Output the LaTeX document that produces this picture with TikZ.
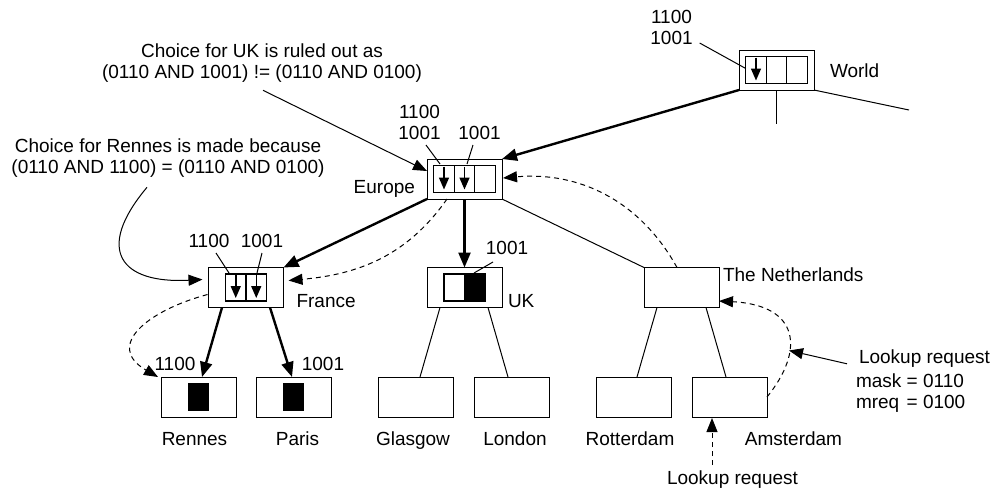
\documentclass[tikz,border=0pt]{standalone}
\usepackage{fontspec}
\setmainfont{Liberation Sans}
\usetikzlibrary{arrows.meta,calc,positioning}

\tikzset{
  every node/.style={inner sep=0pt,outer sep=0pt,font=\fontsize{19}{21}\selectfont},
  box/.style={draw,line width=1pt,minimum width=75pt,minimum height=40pt},
  cell/.style={draw,line width=1.2pt,minimum width=20.5pt,minimum height=27pt},
  pointer/.style={path picture={\draw[line width=1.5pt,-{Triangle[length=12pt,width=10pt]}]
      ([yshift=-1pt]path picture bounding box.north) -- ([yshift=3pt]path picture bounding box.south);}},
  bit/.style={fill=black,minimum width=21pt,minimum height=28pt},
  branch/.style={line width=1pt},
  route/.style={line width=2.4pt,-{Triangle[length=15pt,width=12pt]}},
  hint/.style={line width=1pt,-{Triangle[length=14pt,width=11pt]}},
  query/.style={line width=1pt,dash pattern=on 5pt off 4pt,-{Triangle[length=14pt,width=11pt]}}
}

\begin{document}
\begin{tikzpicture}[x=1pt,y=1pt]
  \useasboundingbox (0,0) rectangle (992,-491);

  % tree boxes
  \node[box] (World) at (776.5,-70) {};
  \node[box] (Europe) at ($(World)+(-312,-109)$) {};
  \node[box] (UK) at ($(Europe)+(0,-108.5)$) {};
  \node[box] (France) at ($(UK)+(-218.5,0)$) {};
  \node[box] (NL) at ($(UK)+(217,0)$) {};
  \node[box] (Rennes) at ($(France)+(-47.5,-109.5)$) {};
  \node[box] (Paris) at ($(France)+(47.5,-109.5)$) {};
  \node[box] (Glasgow) at ($(UK)+(-49,-109.5)$) {};
  \node[box] (London) at ($(UK)+(47,-109.5)$) {};
  \node[box] (Rotterdam) at ($(NL)+(-48,-109.5)$) {};
  \node[box] (Amsterdam) at ($(NL)+(48,-109.5)$) {};

  % cells
  \node[cell,pointer] (W1) at ($(World)+(-20.5,0)$) {};
  \node[cell,right=0pt of W1] (W2) {};
  \node[cell,right=0pt of W2] (W3) {};
  \node[cell,pointer] (E1) at ($(Europe)+(-20.5,0)$) {};
  \node[cell,pointer,right=0pt of E1] (E2) {};
  \node[cell,right=0pt of E2] (E3) {};
  \node[cell,pointer,anchor=east] (F1) at (France) {};
  \node[cell,pointer,anchor=west] (F2) at (France) {};
  \node[cell,anchor=east] (U1) at (UK) {};
  \node[cell,fill=black,anchor=west] (U2) at (UK) {};
  \node[bit] (RennesBit) at (Rennes) {};
  \node[bit] (ParisBit) at (Paris) {};

  % names
  \node[anchor=base west] (lWorld) at ($(World.east)+(16,-7)$) {World};
  \node[anchor=base east] (lEurope) at ($(Europe.west)+(-12,-14)$) {Europe};
  \node[anchor=base west] (lFrance) at ($(France.east)+(13,-19.5)$) {France};
  \node[anchor=base west] (lUK) at ($(UK.east)+(6,-19.5)$) {UK};
  \node[anchor=base west] (lNL) at ($(NL.east)+(4,6.5)$) {The Netherlands};
  \node[anchor=base] (lRennes) at ($(Rennes.south)+(-4,-28)$) {Rennes};
  \node[anchor=base] (lParis) at ($(Paris.south)+(4,-28)$) {Paris};
  \node[anchor=base] (lGlasgow) at ($(Glasgow.south)+(-2.5,-28)$) {Glasgow};
  \node[anchor=base] (lLondon) at ($(London.south)+(3.5,-28)$) {London};
  \node[anchor=base] (lRotterdam) at ($(Rotterdam.south)+(-3.5,-28)$) {Rotterdam};
  \node[anchor=base] (lAmsterdam) at ($(Amsterdam.south)+(64,-28)$) {Amsterdam};

  % bit strings
  \node[anchor=base] (bW) at ($(World.west)+(-67.5,26)$) {\begin{tabular}[b]{@{}c@{}}1100\\1001\end{tabular}};
  \node[anchor=base] (bE1) at ($(Europe.north)+(-45,20)$) {\begin{tabular}[b]{@{}c@{}}1100\\1001\end{tabular}};
  \node[anchor=base] (bE2) at ($(Europe.north)+(15,20)$) {1001};
  \node[anchor=base] (bF1) at ($(France.north)+(-37,20.5)$) {1100};
  \node[anchor=base] (bF2) at ($(France.north)+(16,20.5)$) {1001};
  \node[anchor=base] (bU) at ($(UK.north)+(42.5,13.5)$) {1001};
  \node[anchor=base] (bR) at ($(Rennes.north)+(-23.5,7)$) {1100};
  \node[anchor=base] (bP) at ($(Paris.north)+(29.5,7)$) {1001};

  % comments and requests
  \node[anchor=base] (cU) at (262,-57.3) {\begin{tabular}[t]{@{}c@{}}Choice for UK is ruled out as\\(0110 AND 1001) != (0110 AND 0100)\end{tabular}};
  \node[anchor=base] (cR) at (168,-152.3) {\begin{tabular}[t]{@{}c@{}}Choice for Rennes is made because\\(0110 AND 1100) = (0110 AND 0100)\end{tabular}};
  \node[anchor=base west] (lk) at ($(Amsterdam.east)+(89,33.2)$) {\begin{tabular}[t]{@{}l@{\ }l@{}}\multicolumn{2}{@{\hspace{3pt}}l@{}}{Lookup request}\\[3pt]mask &= 0110\\mreq &= 0100\end{tabular}};
  \node[anchor=base] (lb) at ($(Amsterdam.south)+(3,-67)$) {Lookup request};

  \coordinate (Wdown) at ($(World.south)+(0,-34)$);
  \coordinate (Wright) at ($(World.south east)+(95,-20)$);
  \coordinate (hit) at ($(Amsterdam.east)+(22,46.5)$);

  % tree
  \path[route] (World.south west) edge (Europe.north east);
  \path[branch] (World.south) edge (Wdown) (World.south east) edge (Wright);
  \path[route] (Europe.south west) edge (France.north east);
  \path[route] (Europe.south) edge (UK.north);
  \path[branch] (Europe.south east) edge (NL.north west);
  \path[route] ($(France.south)+(-24,0)$) edge ($(Rennes.north)+(3.5,0)$);
  \path[route] ($(France.south)+(24,0)$) edge ($(Paris.north)+(-1.5,0)$);
  \path[branch] ($(UK.south)+(-24.5,0)$) edge ($(Glasgow.north)+(4.5,0)$)
                ($(UK.south)+(23.5,0)$) edge ($(London.north)+(-3.5,0)$);
  \path[branch] ($(NL.south)+(-24.5,0)$) edge ($(Rotterdam.north)+(3.5,0)$)
                ($(NL.south)+(24.5,0)$) edge ($(Amsterdam.north)+(-3.5,0)$);

  % bit string pointers
  \draw[branch] ($(bW.base east)+(7,1)$) -- ($(W1.west)+(0,1.5)$);
  \draw[branch] ($(bE1.base)+(6.5,-6)$) -- ($(E1.north)+(-4,1.5)$);
  \draw[branch] ($(bE2.base)+(-6.5,-6)$) -- ($(E2.north)+(2.5,1.5)$);
  \draw[branch] ($(bF1.base)+(7,-6)$) -- ($(F1.north)+(-6.75,1)$);
  \draw[branch] ($(bF2.base)+(0,-6)$) -- ($(F2.north)+(0.75,1)$);
  \draw[branch] ($(bU.base)+(-14,-8)$) -- ($(U2.north)+(-0.75,1)$);

  % lookup path
  \draw[query] ($(lb.north)+(-20.5,5)$) -- ($(Amsterdam.south)+(-17.5,-1)$);
  \draw[query] (Amsterdam.east) to[out=51,in=-3,out distance=60pt,in distance=81pt] ($(NL.east)+(0,-13.5)$);
  \draw[query] ($(NL.north)+(-4.5,0)$) to[out=119,in=5] ($(Europe.east)+(1,1)$);
  \draw[query] ($(Europe.south)+(-17.5,0)$) to[out=235,in=5] ($(France.east)+(5,7)$);
  \draw[query] ($(France.west)+(-1,-7)$) to[out=195,in=150,distance=62pt] ($(Rennes.north west)+(-3,0)$);
  \draw[hint] ($(lk.base west)+(-9,0)$) -- (hit);
  \draw[hint] ($(cU.base)+(1,-33)$) -- ($(Europe.west)+(0,8)$);
  \draw[hint] ($(cR.base)+(-21,-35)$) to[out=230,in=183,distance=82pt] ($(France.west)+(-6,8)$);
\end{tikzpicture}
\end{document}
